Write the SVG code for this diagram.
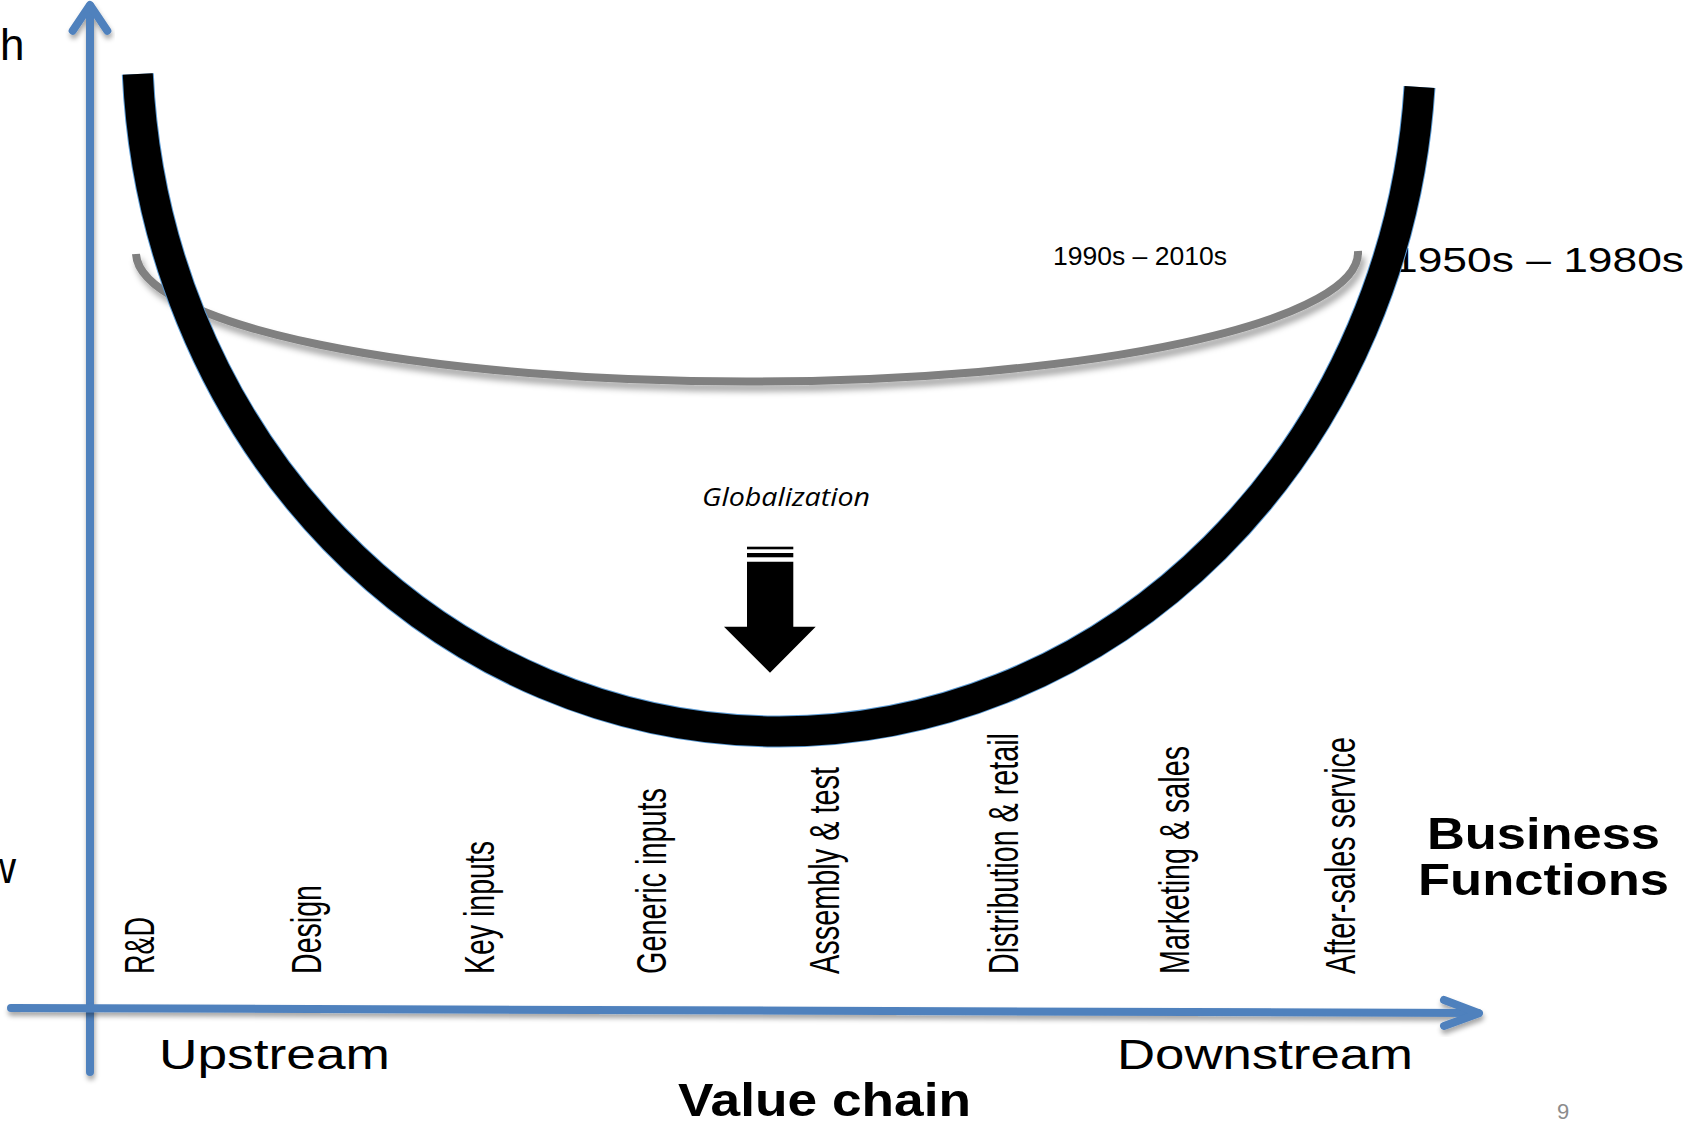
<svg xmlns="http://www.w3.org/2000/svg" width="1697" height="1122" viewBox="0 0 1697 1122">
<defs>
<filter id="sh" x="-20%" y="-20%" width="140%" height="160%">
<feDropShadow dx="1" dy="4" stdDeviation="2.5" flood-color="#000" flood-opacity="0.35"/>
</filter>
<filter id="sh2" x="-10%" y="-50%" width="120%" height="200%">
<feDropShadow dx="3" dy="6" stdDeviation="3" flood-color="#000" flood-opacity="0.35"/>
</filter>
</defs>
<style>
.axis{fill:none;stroke:#4f81bd;stroke-width:8;stroke-linecap:round;stroke-linejoin:round}
.lab{font-family:"Liberation Sans Narrow","Liberation Sans",Arial,sans-serif;font-size:43px;fill:#000}
.t{font-family:"Liberation Sans",Arial,sans-serif;fill:#000}
.b{font-weight:bold}
</style>
<rect width="1697" height="1122" fill="#fff"/>

<g id="axis-labels">
<text class="t" x="0" y="60" font-size="44">h</text>
<text class="t" x="16" y="883" font-size="44" text-anchor="end">w</text>
</g>

<g id="era-labels">
<text class="t" x="1053" y="265" font-size="26" textLength="174" lengthAdjust="spacingAndGlyphs">1990s – 2010s</text>
<text class="t" x="1393" y="272" font-size="35" textLength="291" lengthAdjust="spacingAndGlyphs">1950s – 1980s</text>
</g>

<g id="curve-1990s">
<path d="M136,254 A611,129 0 0 0 1358,251" fill="none" stroke="#808080" stroke-width="8" filter="url(#sh2)"/>
</g>

<g id="curve-1950s">
<path d="M137.78,74 A642,691.5 0 0 0 1419.52,87" fill="none" stroke="#5b9bd5" stroke-width="32"/>
<path d="M137.78,74 A642,691.5 0 0 0 1419.52,87" fill="none" stroke="#000" stroke-width="30"/>
</g>

<g id="globalization">
<text x="702" y="506" font-family="'Open Sans','Liberation Sans',sans-serif" font-style="italic" font-size="25" textLength="168" lengthAdjust="spacingAndGlyphs">Globalization</text>
<rect x="747" y="546.7" width="46.3" height="2.6" fill="#000"/>
<rect x="747" y="553" width="46.3" height="4.3" fill="#000"/>
<path d="M747,561.7 H793.3 V626.7 H815.7 L770,672.7 L724,626.7 H747 Z" fill="#000"/>
</g>

<g id="connectors">
<g filter="url(#sh)">
<path class="axis" d="M90,1072 V6"/>
<path class="axis" d="M72.7,30.7 L90,5 L107.3,30.7"/>
</g>
<g filter="url(#sh)">
<path class="axis" d="M11,1008 L1478,1013"/>
<path class="axis" d="M1444,1000 L1479,1013.3 L1444,1026"/>
</g>
</g>

<g id="functions">
<text class="lab" transform="translate(154,974) rotate(-90)" textLength="57" lengthAdjust="spacingAndGlyphs">R&amp;D</text>
<text class="lab" transform="translate(321,974) rotate(-90)" textLength="89" lengthAdjust="spacingAndGlyphs">Design</text>
<text class="lab" transform="translate(494,974) rotate(-90)" textLength="133" lengthAdjust="spacingAndGlyphs">Key inputs</text>
<text class="lab" transform="translate(666,974) rotate(-90)" textLength="186" lengthAdjust="spacingAndGlyphs">Generic inputs</text>
<text class="lab" transform="translate(839,974) rotate(-90)" textLength="207" lengthAdjust="spacingAndGlyphs">Assembly &amp; test</text>
<text class="lab" transform="translate(1018,974) rotate(-90)" textLength="241" lengthAdjust="spacingAndGlyphs">Distribution &amp; retail</text>
<text class="lab" transform="translate(1189,974) rotate(-90)" textLength="228" lengthAdjust="spacingAndGlyphs">Marketing &amp; sales</text>
<text class="lab" transform="translate(1355,974) rotate(-90)" textLength="237" lengthAdjust="spacingAndGlyphs">After-sales service</text>
</g>

<g id="business-functions">
<text class="t b" x="1427" y="849" font-size="44" textLength="233" lengthAdjust="spacingAndGlyphs">Business</text>
<text class="t b" x="1418" y="895" font-size="44" textLength="251" lengthAdjust="spacingAndGlyphs">Functions</text>
</g>

<g id="value-chain">
<text class="t" x="159" y="1069" font-size="42" textLength="231" lengthAdjust="spacingAndGlyphs">Upstream</text>
<text class="t" x="1117" y="1069" font-size="42" textLength="296" lengthAdjust="spacingAndGlyphs">Downstream</text>
<text class="t b" x="678" y="1116" font-size="46" textLength="293" lengthAdjust="spacingAndGlyphs">Value chain</text>
</g>

<g id="page-number">
<text class="t" x="1557" y="1119" font-size="22" style="fill:#8c8c8c">9</text>
</g>
</svg>
